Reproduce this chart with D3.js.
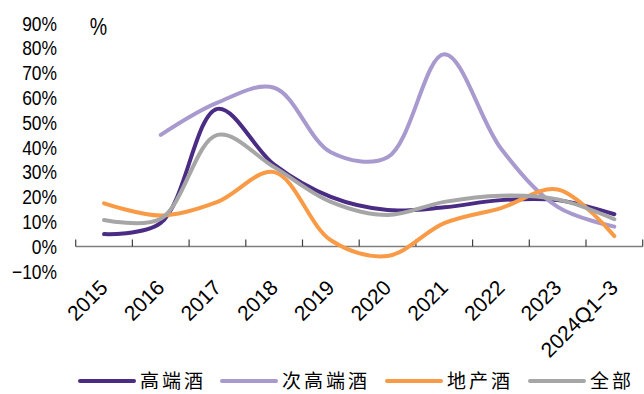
<!DOCTYPE html>
<html>
<head>
<meta charset="utf-8">
<script src="https://cdn.jsdelivr.net/npm/d3@7"></script>
<style>
  body { margin: 0; background: #fff; }
  svg { display: block; }
  .tick text { font-family: "Liberation Sans", Arial, sans-serif; font-size: 21px; fill: #000; }
  .legend text { font-family: "Noto Sans CJK SC", sans-serif; font-size: 19px; fill: #000; }
</style>
</head>
<body>
<svg id="chart" width="644" height="394"></svg>
<script>
// categories and series values (%)
const years = ["2015", "2016", "2017", "2018", "2019", "2020", "2021", "2022", "2023", "2024Q1\u22123"];
const gaoduan = [5, 9.5, 55.5, 33, 20, 14.7, 15.8, 18.7, 18.7, 13];
const cigaoduan = [null, 45, 58, 64, 38, 36, 77.5, 39.5, 16, 8];
const dichan = [17.4, 12.5, 18, 30, 2.5, -3.8, 9.4, 15.5, 23, 4.2];
const quanbu = [10.7, 11.2, 45, 32, 18, 12.7, 18, 20.5, 19, 11];
const yTicks = [-10, 0, 10, 20, 30, 40, 50, 60, 70, 80, 90];

const series = [
    {name: "高端酒", values: gaoduan, color: "#4b2c85"},
    {name: "次高端酒", values: cigaoduan, color: "#a899cf"},
    {name: "地产酒", values: dichan, color: "#f99a46"},
    {name: "全部", values: quanbu, color: "#a6a6a6"}
];

const svg = d3.select("#chart");

let x = d3.scaleBand().domain(years).range([75.7, 642.7]);
let y = d3.scaleLinear().domain([-10, 90]).range([271.3, 23.3]);

// y axis: labels only, a bit condensed like the original font
svg.append("g")
    .attr("transform", "translate(57,0)")
    .call(d3.axisLeft(y).tickValues(yTicks).tickSize(0).tickPadding(0)
        .tickFormat(function(d) { return (d < 0 ? "\u2212" + (-d) : d) + "%"; }))
    .call(function(g) { g.select(".domain").remove(); })
    .selectAll(".tick text")
    .attr("transform", "scale(0.83,1)");

// unit label
svg.append("text")
    .attr("x", 88).attr("y", 35)
    .style("font-family", "Liberation Sans, Arial, sans-serif")
    .style("font-size", "23px")
    .attr("transform", "translate(15,0) scale(0.85,1)")
    .text("%");

// x axis at zero line
let xa = svg.append("g").attr("class", "xaxis");
xa.append("line")
    .attr("x1", x.range()[0]).attr("x2", x.range()[1])
    .attr("y1", y(0)).attr("y2", y(0))
    .attr("stroke", "#7f7f7f").attr("stroke-width", 1.5);
xa.selectAll("line.tk")
    .data(years.map(function(d) { return x(d); }).concat([x.range()[1]]))
    .enter().append("line")
    .attr("class", "tk")
    .attr("x1", function(d) { return d; }).attr("x2", function(d) { return d; })
    .attr("y1", y(0)).attr("y2", y(0) - 7)
    .attr("stroke", "#404040").attr("stroke-width", 1.2);

xa.selectAll("text")
    .data(years)
    .enter().append("text")
    .attr("transform", function(d) {
        return "translate(" + (x(d) + x.bandwidth() / 2 + 5) + "," + 289 + ") rotate(-45)";
    })
    .style("text-anchor", "end")
    .style("font-family", "Liberation Sans, Arial, sans-serif")
    .style("font-size", "21px")
    .text(function(d) { return d; });

// lines
let line = d3.line()
    .defined(function(d) { return d != null; })
    .x(function(d, i) { return x(years[i]) + x.bandwidth() / 2; })
    .y(function(d) { return y(d); })
    .curve(d3.curveCatmullRom);

svg.selectAll("path.series")
    .data(series)
    .enter().append("path")
    .attr("class", "series")
    .attr("fill", "none")
    .attr("stroke", function(d) { return d.color; })
    .attr("stroke-width", 4)
    .attr("stroke-linecap", "round")
    .attr("d", function(d) { return line(d.values); });

// legend
let legendX = [80, 222, 387, 530];
let lg = svg.append("g").attr("class", "legend");
let items = lg.selectAll("g")
    .data(series)
    .enter().append("g")
    .attr("transform", function(d, i) { return "translate(" + legendX[i] + ",381)"; });
items.append("line")
    .attr("x1", 0).attr("x2", 54)
    .attr("stroke", function(d) { return d.color; })
    .attr("stroke-width", 4)
    .attr("stroke-linecap", "round");
items.append("text")
    .attr("x", 60).attr("dy", "0.35em")
    .style("letter-spacing", "3px")
    .text(function(d) { return d.name; });
</script>
</body>
</html>
